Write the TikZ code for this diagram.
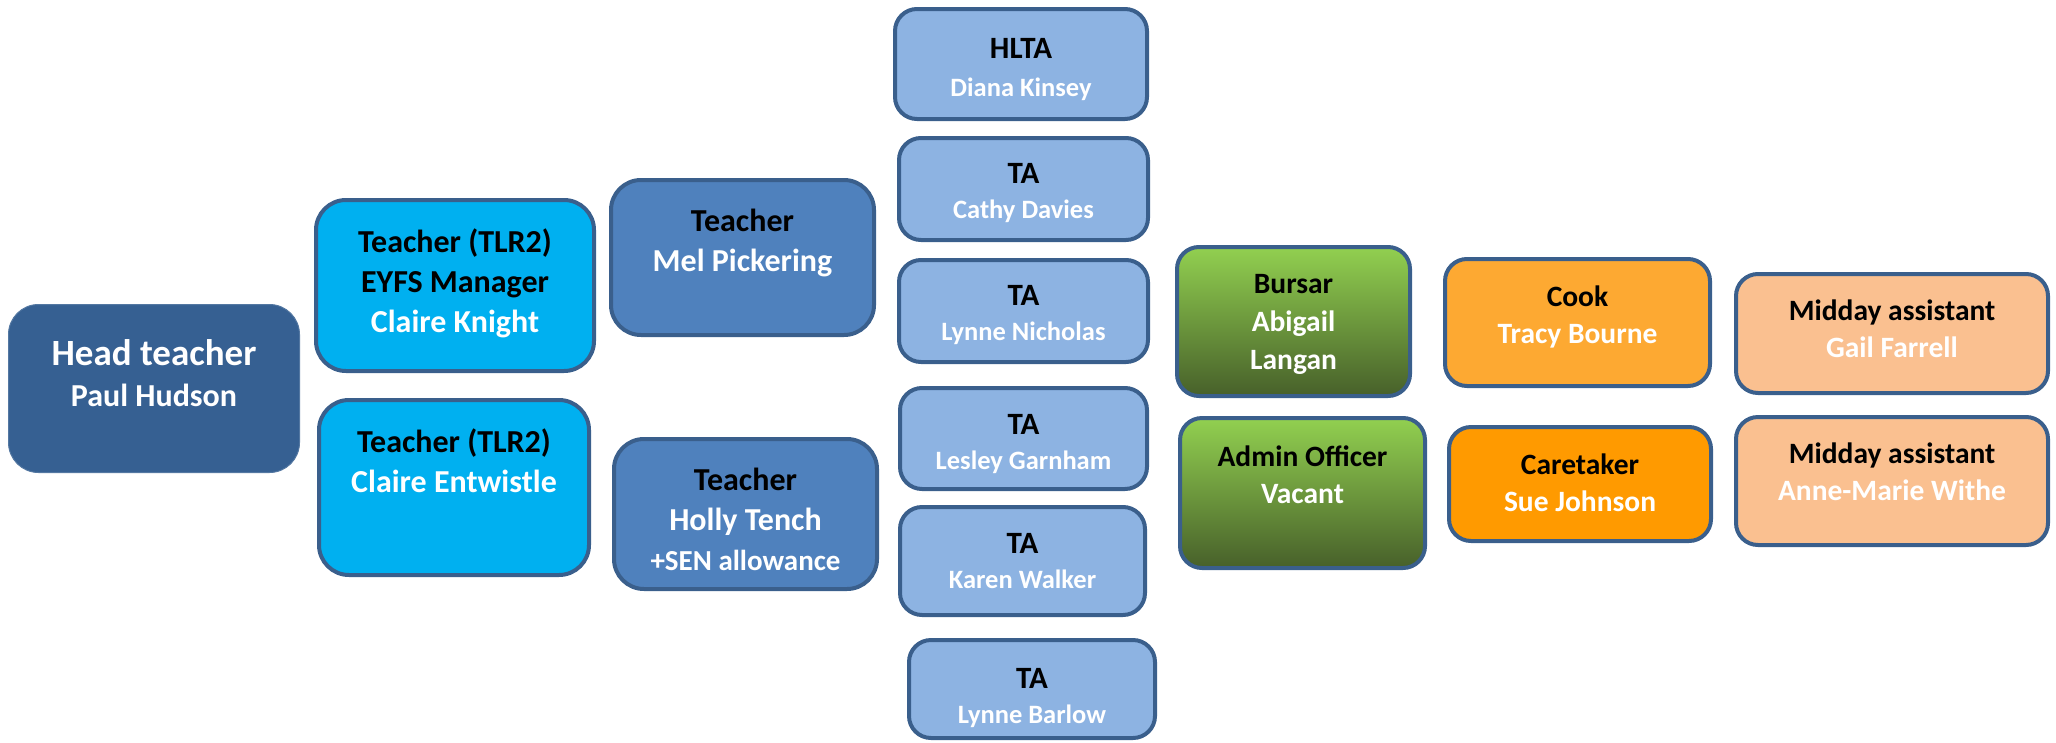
\documentclass[tikz,border=0pt]{standalone}
\usepackage{fontspec}
\setmainfont{Carlito}
\usetikzlibrary{positioning}

\definecolor{headblue}{HTML}{366092}
\definecolor{edgeblue}{HTML}{3A5F8C}
\definecolor{tlrcyan}{HTML}{00B0F0}
\definecolor{teachblue}{HTML}{4F81BD}
\definecolor{tablue}{HTML}{8DB3E2}
\definecolor{greentop}{HTML}{92D050}
\definecolor{greenbot}{HTML}{47602A}
\definecolor{cookorange}{HTML}{FDA932}
\definecolor{careorange}{HTML}{FF9A00}
\definecolor{middaypeach}{HTML}{FAC090}

\newcommand{\role}[1]{\textcolor{black}{#1}}
\newcommand{\who}[1]{\textcolor{white}{#1}}

\tikzset{
  staff/.style={draw=edgeblue, line width=4pt, rounded corners=22pt, inner sep=0pt},
  bigstaff/.style={staff, rounded corners=30pt},
  greenbox/.style={staff, top color=greentop, bottom color=greenbot},
  headtext/.style={align=center, inner sep=0pt, font=\bfseries\fontsize{32}{41}\selectfont},
  teachtext/.style={align=center, inner sep=0pt, font=\bfseries\fontsize{32}{40}\selectfont},
  tatext/.style={align=center, inner sep=0pt, font=\bfseries\fontsize{26.5}{35}\selectfont},
  sidetext/.style={align=center, inner sep=0pt, font=\bfseries\fontsize{29.5}{37}\selectfont},
}
\newcommand{\tatitle}[1]{\role{\fontsize{31}{35}\selectfont #1}}

\begin{document}
\begin{tikzpicture}[x=1pt, y=-1pt]
  \useasboundingbox (0,0) rectangle (2056,742);

  % head teacher
  \node[bigstaff, fill=headblue, draw=headblue!85!white, line width=1pt,
        minimum width=291pt, minimum height=168pt] (head) at (154,388.5) {};
  \node[headtext, below=35pt of head.north] (head-t)
        {\who{\fontsize{37}{41}\selectfont Head teacher}\\\who{Paul Hudson}};

  % TLR2 teachers
  \node[bigstaff, fill=tlrcyan, minimum width=278pt, minimum height=171pt] (eyfs) at (455,285.5) {};
  \node[teachtext, below=31pt of eyfs.north] (eyfs-t)
        {\role{Teacher (TLR2)}\\\role{EYFS Manager}\\\who{Claire Knight}};
  \node[bigstaff, fill=tlrcyan, minimum width=270pt, minimum height=175pt] (entw) at (454,487.5) {};
  \node[teachtext, below=31pt of entw.north] (entw-t)
        {\role{Teacher (TLR2)}\\\who{Claire Entwistle}};

  % class teachers
  \node[bigstaff, fill=teachblue, minimum width=263pt, minimum height=155pt] (mel) at (742.5,257.5) {};
  \node[teachtext, below=31pt of mel.north] (mel-t)
        {\role{Teacher}\\\who{Mel Pickering}};
  \node[bigstaff, fill=teachblue, minimum width=263pt, minimum height=150pt] (holly) at (745.5,514) {};
  \node[teachtext, below=31pt of holly.north] (holly-t)
        {\role{Teacher}\\\who{Holly Tench}\\\who{\fontsize{29}{41}\selectfont +SEN allowance}};

  % teaching assistants
  \node[staff, fill=tablue, minimum width=252pt, minimum height=110pt] (hlta) at (1021,64) {};
  \node[tatext, font=\bfseries\fontsize{26.5}{38}\selectfont, below=31pt of hlta.north] (hlta-t)
        {\tatitle{HLTA}\\\who{Diana Kinsey}};
  \node[staff, fill=tablue, minimum width=249pt, minimum height=102pt] (cathy) at (1023.5,189) {};
  \node[tatext, below=27pt of cathy.north] (cathy-t) {\tatitle{TA}\\\who{Cathy Davies}};
  \node[staff, fill=tablue, minimum width=249pt, minimum height=102pt] (nicholas) at (1023.5,311) {};
  \node[tatext, below=27pt of nicholas.north] (nicholas-t) {\tatitle{TA}\\\who{Lynne Nicholas}};
  \node[staff, fill=tablue, minimum width=247pt, minimum height=101pt] (lesley) at (1023.5,438.5) {};
  \node[tatext, below=28pt of lesley.north] (lesley-t) {\tatitle{TA}\\\who{Lesley Garnham}};
  \node[staff, fill=tablue, minimum width=245pt, minimum height=108pt] (karen) at (1022.5,561) {};
  \node[tatext, below=28pt of karen.north] (karen-t) {\tatitle{TA}\\\who{Karen Walker}};
  \node[staff, fill=tablue, minimum width=246pt, minimum height=98pt] (barlow) at (1032,689) {};
  \node[tatext, below=30pt of barlow.north] (barlow-t) {\tatitle{TA}\\\who{Lynne Barlow}};

  % office
  \node[greenbox, minimum width=233pt, minimum height=149pt] (bursar) at (1293.5,321.5) {};
  \node[sidetext, font=\bfseries\fontsize{29.5}{38}\selectfont, below=29pt of bursar.north] (bursar-t)
        {\role{Bursar}\\\who{Abigail}\\\who{Langan}};
  \node[greenbox, minimum width=245pt, minimum height=150pt] (admin) at (1302.5,493) {};
  \node[sidetext, below=30pt of admin.north] (admin-t)
        {\role{Admin Officer}\\\who{Vacant}};

  % kitchen and site
  \node[staff, fill=cookorange, minimum width=265pt, minimum height=127pt] (cook) at (1577.5,322.5) {};
  \node[sidetext, below=29pt of cook.north] (cook-t) {\role{Cook}\\\who{Tracy Bourne}};
  \node[staff, fill=careorange, minimum width=262pt, minimum height=114pt] (care) at (1580,484) {};
  \node[sidetext, below=29pt of care.north] (care-t) {\role{Caretaker}\\\who{Sue Johnson}};

  % midday
  \node[staff, fill=middaypeach, minimum width=312pt, minimum height=119pt] (gail) at (1892,333.5) {};
  \node[sidetext, below=28pt of gail.north] (gail-t) {\role{Midday assistant}\\\who{Gail Farrell}};
  \node[staff, fill=middaypeach, minimum width=312pt, minimum height=128pt] (anne) at (1892,481) {};
  \node[sidetext, below=28pt of anne.north] (anne-t) {\role{Midday assistant}\\\who{Anne-Marie Withe}};
\end{tikzpicture}
\end{document}
